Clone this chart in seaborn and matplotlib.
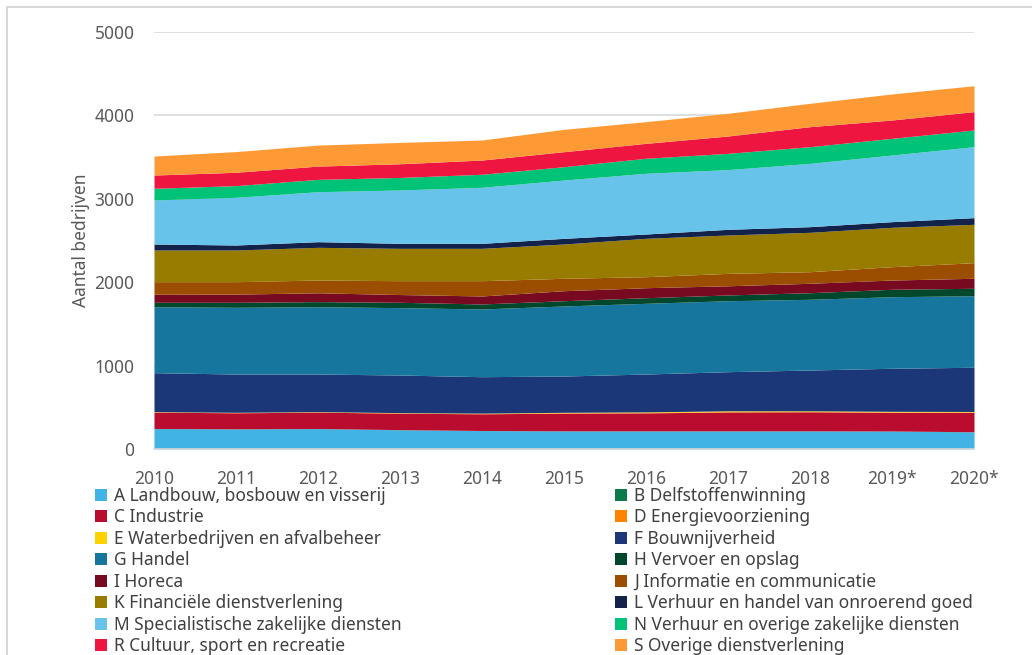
import numpy as np
import pandas as pd
import matplotlib
matplotlib.use("Agg")
import matplotlib.pyplot as plt
from matplotlib.patches import Patch
import seaborn as sns

years = ["2010", "2011", "2012", "2013", "2014", "2015", "2016", "2017", "2018", "2019*", "2020*"]

A = [244, 240, 244, 230, 220, 216, 216, 216, 216, 214, 205]
B = [2, 2, 2, 2, 2, 2, 2, 2, 2, 2, 2]
C = [196, 192, 196, 197, 200, 212, 215, 226, 228, 224, 233]
D = [4, 4, 4, 4, 4, 4, 4, 4, 4, 4, 4]
E = [2, 2, 2, 3, 4, 6, 8, 10, 8, 8, 6]
F = [467, 459, 451, 451, 437, 435, 454, 469, 489, 516, 530]
G = [791, 800, 807, 808, 812, 840, 848, 851, 848, 858, 858]
H = [53, 60, 61, 64, 60, 63, 67, 69, 79, 89, 89]
I = [96, 98, 106, 93, 96, 120, 120, 110, 113, 111, 120]
J = [151, 149, 153, 166, 183, 149, 132, 149, 139, 160, 187]
K = [380, 380, 392, 388, 388, 411, 460, 460, 472, 472, 460]
L = [72, 60, 68, 60, 60, 68, 52, 68, 68, 68, 80]
M = [528, 572, 599, 640, 672, 699, 728, 716, 759, 799, 851]
N = [140, 140, 148, 150, 156, 160, 180, 195, 200, 200, 200]
R = [159, 160, 159, 164, 171, 180, 179, 208, 240, 220, 220]
S = [228, 248, 252, 256, 240, 268, 260, 272, 280, 312, 311]

labels = ["A Landbouw, bosbouw en visserij", "B Delfstoffenwinning",
          "C Industrie", "D Energievoorziening",
          "E Waterbedrijven en afvalbeheer", "F Bouwnijverheid",
          "G Handel", "H Vervoer en opslag",
          "I Horeca", "J Informatie en communicatie",
          "K Financiële dienstverlening", "L Verhuur en handel van onroerend goed",
          "M Specialistische zakelijke diensten", "N Verhuur en overige zakelijke diensten",
          "R Cultuur, sport en recreatie", "S Overige dienstverlening"]

colors = ["#41b4e5", "#0b7a4b", "#ba0c2f", "#ff8200", "#ffd100", "#1b3777",
          "#17769e", "#00472b", "#770a20", "#9b4e00", "#987c00", "#13224b",
          "#67c3ea", "#00c377", "#ee1641", "#fd9a35"]

df = pd.DataFrame(dict(zip(labels, [A, B, C, D, E, F, G, H, I, J, K, L, M, N, R, S])),
                  index=years)

sns.set_style("white")
plt.rcParams['font.family'] = ['Noto Sans', 'DejaVu Sans']

fig = plt.figure(figsize=(10.32, 6.55), dpi=100)
ax = fig.add_axes([154 / 1032, 1 - 449 / 655, 820 / 1032, 417 / 655])

x = np.arange(len(years))
ax.stackplot(x, df.T.values, colors=colors, linewidth=0)

ax.set_xlim(0, len(years) - 1)
ax.set_ylim(0, 5000)
ax.set_yticks(range(0, 5001, 1000))
ax.set_xticks(x)
ax.set_xticklabels(years)
ax.yaxis.grid(True, color="#d9d9d9", linewidth=1.2)
ax.set_axisbelow(True)
for side in ["left", "right", "top"]:
    ax.spines[side].set_visible(False)
ax.spines["bottom"].set_color("#d9d9d9")
ax.spines["bottom"].set_linewidth(1.2)
ax.tick_params(axis="x", colors="#595959", length=5, width=1.2, color="#d9d9d9",
               labelsize=12.5, pad=10)
ax.tick_params(axis="y", colors="#595959", length=0, labelsize=12.5, pad=14)
ax.set_ylabel("Aantal bedrijven", fontsize=12.5, color="#595959", labelpad=3)

# legend: two columns, row order A/B, C/D, ...
handles = [Patch(facecolor=c, edgecolor="none") for c in colors]
common = dict(frameon=False, fontsize=12.5, handlelength=0.7, handleheight=0.7,
              handletextpad=0.4, labelspacing=0.2, labelcolor="#404040",
              borderaxespad=0, borderpad=0)
fig.legend(handles[0::2], labels[0::2], loc="upper left",
           bbox_to_anchor=(95 / 1032, 1 - 487 / 655), **common)
fig.legend(handles[1::2], labels[1::2], loc="upper left",
           bbox_to_anchor=(615 / 1032, 1 - 487 / 655), **common)

# outer frame (cropped at bottom/right)
fig.add_artist(plt.Line2D([7 / 1032, 1], [1 - 7 / 655, 1 - 7 / 655],
                          transform=fig.transFigure, color="#d9d9d9", linewidth=1.5))
fig.add_artist(plt.Line2D([7 / 1032, 7 / 1032], [0, 1 - 7 / 655],
                          transform=fig.transFigure, color="#d9d9d9", linewidth=1.5))

fig.savefig("out.png", dpi=100)
